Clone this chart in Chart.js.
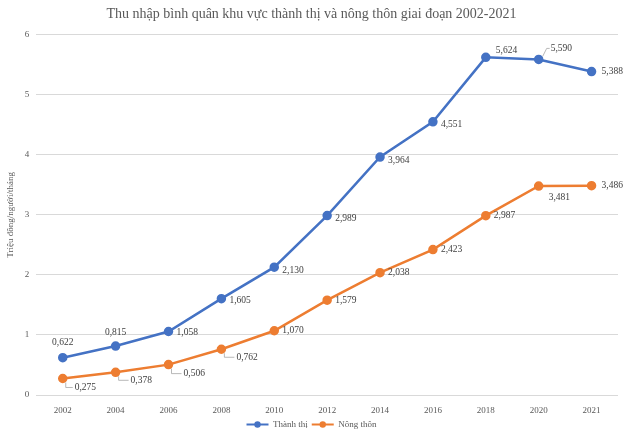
<!DOCTYPE html>
<html><head><meta charset="utf-8">
<script src="https://cdn.jsdelivr.net/npm/chart.js@4.4.0/dist/chart.umd.min.js"></script>
<style>html,body{margin:0;padding:0;background:#fff;overflow:hidden}canvas{display:block}</style>
</head><body><canvas id="c" width="630" height="434"></canvas>
<script>
const years = ['2002','2004','2006','2008','2010','2012','2014','2016','2018','2020','2021'];
const urban = [0.622,0.815,1.058,1.605,2.130,2.989,3.964,4.551,5.624,5.590,5.388];
const rural = [0.275,0.378,0.506,0.762,1.070,1.579,2.038,2.423,2.987,3.481,3.486];
const yTicks = [0,1,2,3,4,5,6];

// label placement: [dx, dy, align, leader]
const urbanPos = [[0,-15,'center',0],[0,-14,'center',0],[8,1,'left',0],[8,2,'left',0],[8,3,'left',0],[8,3,'left',0],[8,3,'left',0],[8,3,'left',0],[10,-7,'left',0],[9,-11,'left',1],[10,0,'left',0]];
const ruralPos = [[9,9,'left',1],[12,8,'left',1],[12,9,'left',1],[12,8,'left',1],[8,0,'left',0],[8,0,'left',0],[8,0,'left',0],[8,0,'left',0],[8,0,'left',0],[10,11,'left',0],[10,0,'left',0]];

const fmt = v => v.toFixed(3).replace('.', ',');

const labelPlugin = {
  id: 'lbl',
  afterDatasetsDraw(chart) {
    const ctx = chart.ctx;
    ctx.save();
    ctx.font = '9.5px "Liberation Serif"';
    ctx.fillStyle = '#404040';
    ctx.textBaseline = 'middle';
    [urbanPos, ruralPos].forEach((pos, di) => {
      const meta = chart.getDatasetMeta(di);
      const data = chart.data.datasets[di].data;
      meta.data.forEach((pt, i) => {
        const [dx, dy, al, leader] = pos[i];
        const x = pt.x + dx, y = pt.y + dy;
        ctx.textAlign = al;
        ctx.fillText(fmt(data[i]), x + (leader ? 3 : 0), y);
        if (leader) {
          ctx.strokeStyle = '#a6a6a6';
          ctx.lineWidth = 0.8;
          ctx.beginPath();
          if (dy > 0) {
            ctx.moveTo(pt.x + 3, pt.y + 4);
            ctx.lineTo(pt.x + 3, y);
            ctx.lineTo(x + 1, y);
          } else {
            ctx.moveTo(pt.x + 4, pt.y - 3);
            ctx.lineTo(x - 1, y);
            ctx.lineTo(x + 2, y);
          }
          ctx.stroke();
        }
      });
    });
    ctx.restore();
  },
  afterDraw(chart) {
    const lg = chart.legend;
    if (!lg || !lg.legendHitBoxes) return;
    const ctx = chart.ctx;
    ctx.save();
    lg.legendHitBoxes.forEach((hb, i) => {
      const ds = chart.data.datasets[i];
      ctx.fillStyle = ds.borderColor;
      ctx.beginPath();
      ctx.arc(hb.left + 11, hb.top + hb.height / 2, 3.2, 0, Math.PI * 2);
      ctx.fill();
    });
    ctx.restore();
  }
};

new Chart(document.getElementById('c'), {
  type: 'line',
  data: {
    labels: years,
    datasets: [
      {label: 'Thành thị', data: urban, borderColor: '#4472c4', backgroundColor: '#4472c4', borderWidth: 2.5, pointRadius: 3.5, pointHoverRadius: 3.5, tension: 0},
      {label: 'Nông thôn', data: rural, borderColor: '#ed7d31', backgroundColor: '#ed7d31', borderWidth: 2.5, pointRadius: 3.5, pointHoverRadius: 3.5, tension: 0}
    ]
  },
  options: {
    responsive: false, animation: false, devicePixelRatio: 1,
    layout: {padding: {left: 5, right: 12, top: 0, bottom: 0}},
    plugins: {
      title: {display: true, text: 'Thu nhập bình quân khu vực thành thị và nông thôn giai đoạn 2002-2021',
        color: '#595959', font: {family: 'Liberation Serif', size: 14, weight: 'normal'}, padding: {top: 6, bottom: 12}},
      legend: {position: 'bottom', maxHeight: 18, labels: {color: '#595959', font: {family: 'Liberation Serif', size: 9},
        boxWidth: 22, boxHeight: 2, padding: 4,
        generateLabels: (ch) => ch.data.datasets.map((d, i) => ({text: d.label, fillStyle: d.borderColor, strokeStyle: d.borderColor, lineWidth: 0, datasetIndex: i, fontColor: '#595959'}))}},
      tooltip: {enabled: false}
    },
    scales: {
      x: {offset: true, grid: {display: false, drawTicks: false}, border: {display: false},
        afterFit: (ax) => { ax.height = 21; },
        ticks: {color: '#595959', font: {family: 'Liberation Serif', size: 9}, padding: 10}},
      y: {min: 0, max: 6, grid: {color: '#d9d9d9', drawTicks: false}, border: {display: false},
        afterBuildTicks: (ax) => { ax.ticks = yTicks.map(v => ({value: v})); },
        ticks: {color: '#595959', font: {family: 'Liberation Serif', size: 9}, padding: 7},
        title: {display: true, text: 'Triệu đồng/người/tháng', color: '#595959', font: {family: 'Liberation Serif', size: 9}, padding: {top: 0, bottom: 2}}}
    }
  },
  plugins: [labelPlugin]
});
</script></body></html>
